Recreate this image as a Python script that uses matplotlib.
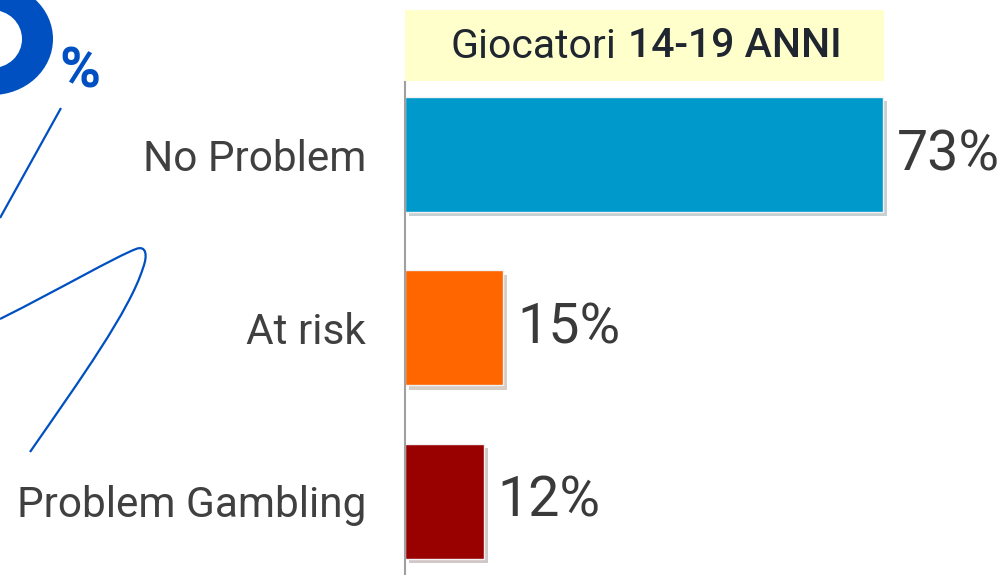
import matplotlib
matplotlib.use('Agg')
import matplotlib.pyplot as plt
import matplotlib.patheffects as pe
from matplotlib.patches import Rectangle, Ellipse, PathPatch
from matplotlib.path import Path

plt.rcParams['font.family'] = ['Roboto', 'DejaVu Sans']

# Dati
categorie = ['No Problem', 'At risk', 'Problem Gambling']
valori = [73, 15, 12]
colori = ['#0099CC', '#FF6600', '#990000']
titolo_a = 'Giocatori'
titolo_b = '14-19 ANNI'

W, H = 1003, 575
fig = plt.figure(figsize=(W/100, H/100), dpi=100)

#%% Decorazioni (coordinate in pixel)
deco = fig.add_axes([0, 0, 1, 1], zorder=0)
deco.set_xlim(0, W)
deco.set_ylim(H, 0)
deco.axis('off')

blu = '#0050C2'
deco.add_patch(Ellipse((-8, 39), 122, 112, color=blu, lw=0))
deco.add_patch(Ellipse((-8, 39), 60, 58, color='white', lw=0))
deco.text(80, 73, '%', color=blu, fontsize=40, fontweight='bold',
          ha='center', va='center')
deco.plot([61, 0], [108, 218], color=blu, lw=1.6, solid_capstyle='butt')
verts = [(0, 319), (60, 289), (115, 257), (136, 249),
         (146, 245), (148, 255), (143, 268),
         (130, 310), (80, 380), (30, 452)]
codes = [Path.MOVETO] + [Path.CURVE4]*9
deco.add_patch(PathPatch(Path(verts, codes), fill=False, edgecolor=blu, lw=1.6))

# box del titolo
deco.add_patch(Rectangle((405, 10), 479, 71, color='#FFFFCC', lw=0))
deco.text(616, 46, titolo_a, ha='right', va='center', fontsize=29.5,
          color='#1F2630')
deco.text(628, 46, titolo_b, ha='left', va='center', fontsize=29.5,
          fontweight='medium', color='#1F2630')

#%% Grafico a barre
ax = fig.add_axes([405/W, 0, (W-405)/W, (H-82)/H], zorder=1)
ax.patch.set_alpha(0)
pos = list(range(len(categorie)))
ax.barh(pos, valori, height=0.663, color=colori, edgecolor='#f2f2f2', lw=1,
        path_effects=[pe.SimplePatchShadow(offset=(3, -3), alpha=0.22),
                      pe.Normal()])
ax.set_xlim(0, (W-405)/6.55)
ax.set_ylim(2.424, -0.418)

for i, v in enumerate(valori):
    ax.annotate(f'{v}%', (v, i), xytext=(10, 0), textcoords='offset points',
                va='center', ha='left', fontsize=40, color='#3A3A3A')

ax.set_yticks(pos, categorie, fontsize=30.5, color='#404040')
ax.tick_params(axis='y', length=0, pad=28)
ax.set_xticks([])
for s in ['top', 'right', 'bottom']:
    ax.spines[s].set_visible(False)
ax.spines['left'].set_color('#A0A0A0')
ax.spines['left'].set_linewidth(1.5)

fig.savefig('out.png', dpi=100)
